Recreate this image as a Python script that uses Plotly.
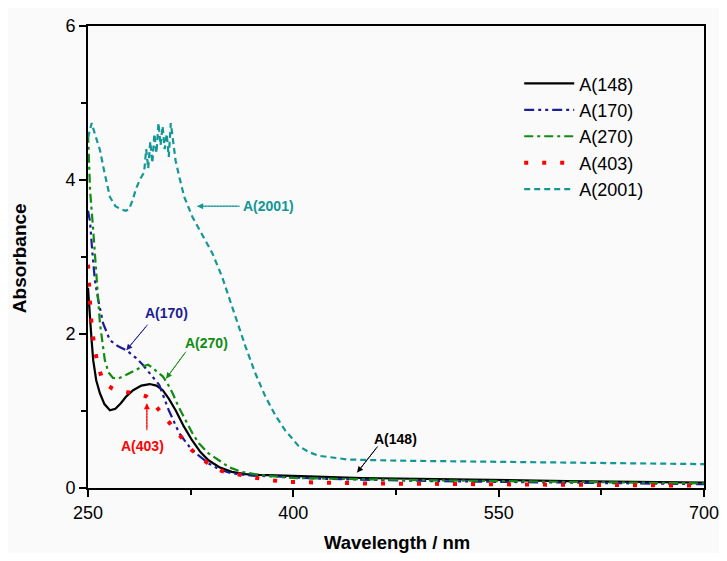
import plotly.graph_objects as go

# ---- data ----
wl_148 = [250, 251, 252.5, 253.8, 256, 258.7, 262, 266, 270, 274, 278, 283, 289, 295, 300, 304.6, 309, 314, 320, 326, 332, 338, 346, 355, 365, 375, 390, 411, 450, 500, 550, 600, 650, 700]
a_148 = [2.6, 2.3, 1.95, 1.66, 1.40, 1.23, 1.09, 1.01, 1.03, 1.10, 1.19, 1.27, 1.33, 1.35, 1.33, 1.27, 1.16, 1.01, 0.80, 0.62, 0.47, 0.36, 0.27, 0.21, 0.18, 0.17, 0.16, 0.15, 0.13, 0.115, 0.10, 0.09, 0.08, 0.07]

wl_170 = [250, 251.5, 253, 255, 257.5, 261, 266, 272, 278, 285, 290, 295, 302, 309, 316.7, 326, 338, 346, 355, 370, 386.6, 420, 500, 600, 700]
a_170 = [3.6, 3.46, 3.1, 2.70, 2.44, 2.14, 1.92, 1.84, 1.79, 1.69, 1.60, 1.49, 1.34, 1.01, 0.71, 0.49, 0.32, 0.24, 0.19, 0.16, 0.15, 0.12, 0.09, 0.07, 0.05]

wl_270 = [250, 250.7, 251.5, 253.8, 256.3, 258.7, 262.3, 265, 268.3, 272, 278, 284, 290, 294, 297.3, 301, 304.6, 308, 311.8, 316, 321.5, 326, 331, 338, 345.6, 353, 362, 375, 398.6, 450, 500, 600, 700]
a_270 = [4.6, 4.3, 3.87, 3.35, 2.70, 2.14, 1.66, 1.50, 1.43, 1.42, 1.47, 1.52, 1.58, 1.60, 1.56, 1.50, 1.45, 1.36, 1.23, 1.06, 0.88, 0.72, 0.58, 0.45, 0.36, 0.27, 0.21, 0.17, 0.13, 0.11, 0.10, 0.08, 0.06]

wl_403 = [250, 250.2, 251.3, 252.7, 255, 257.5, 260, 263.5, 268, 275.6, 285.3, 292.5, 297, 302, 308, 314, 320, 326, 333, 341, 348, 355, 367, 380, 394, 450, 550, 700]
a_403 = [2.9, 2.79, 2.45, 2.10, 1.79, 1.58, 1.44, 1.34, 1.29, 1.25, 1.23, 1.19, 1.12, 1.01, 0.88, 0.75, 0.62, 0.49, 0.38, 0.28, 0.22, 0.19, 0.15, 0.11, 0.08, 0.06, 0.05, 0.03]

wl_2001 = [250, 251, 252.7, 255, 258.7, 262, 266, 270, 274, 277.5, 280, 282.6, 285, 287.7,
           291, 292.5, 294, 295.5, 297, 298.5, 300, 301.5, 303, 304.5, 306, 307.5,
           309, 310.5, 312, 314, 316.7, 320.3, 326.3, 333, 340.8, 348, 355.3,
           365, 372, 379.5, 387, 394, 403.6, 411, 418, 430, 439.9, 476, 548.6, 620, 700]
a_2001 = [4.55, 4.62, 4.74, 4.60, 4.39, 4.10, 3.78, 3.66, 3.62, 3.60, 3.62, 3.74, 3.88, 4.0,
          4.10, 4.40, 4.15, 4.50, 4.22, 4.60, 4.35, 4.74, 4.45, 4.70, 4.40, 4.60,
          4.30, 4.74, 4.50, 4.25, 4.04, 3.78, 3.52, 3.30, 3.05,
          2.74, 2.35, 1.84, 1.50, 1.19, 0.94, 0.75, 0.55, 0.47, 0.42, 0.39, 0.37, 0.355, 0.34,
          0.33, 0.31]

names = ["A(148)", "A(170)", "A(270)", "A(403)", "A(2001)"]
x_ticks = [250, 400, 550, 700]
y_ticks = [0, 2, 4, 6]

# ---- styles ----
C_BLACK = "#000000"
C_BLUE = "#1c1c96"
C_GREEN = "#108c10"
C_RED = "#ff0000"
C_TEAL = "#129696"

fig = go.Figure()
series = [
    (wl_148, a_148, names[0], dict(color=C_BLACK, width=2.2, dash="solid")),
    (wl_170, a_170, names[1], dict(color=C_BLUE, width=2.2, dash="10px,4px,3px,4px,3px,4px")),
    (wl_270, a_270, names[2], dict(color=C_GREEN, width=2.2, dash="9px,4px,3px,4px")),
    (wl_403, a_403, names[3], dict(color=C_RED, width=4, dash="4px,14px")),
    (wl_2001, a_2001, names[4], dict(color=C_TEAL, width=2.2, dash="6px,4px")),
]
for x, y, n, ln in series:
    fig.add_trace(go.Scatter(x=x, y=y, mode="lines", name=n, line=ln))

ann_font = "Liberation Sans"
annotations = [
    # text, color, head(x,y), tail(x,y), text pos(x,y), xanchor
    ("A(2001)", C_TEAL, (329.7, 3.66), (360.9, 3.66), (361.5, 3.66), "left"),
    ("A(170)", C_BLUE, (278, 1.79), (293.5, 2.12), (307.2, 2.27), "center"),
    ("A(270)", C_GREEN, (307, 1.42), (321.5, 1.77), (336.2, 1.88), "center"),
    ("A(403)", C_RED, (293, 1.10), (293, 0.75), (290, 0.54), "center"),
    ("A(148)", C_BLACK, (446.6, 0.20), (461.6, 0.54), (474.6, 0.64), "center"),
]
for txt, col, head, tail, tpos, xa in annotations:
    fig.add_shape(type="line", x0=tail[0], y0=tail[1], x1=head[0], y1=head[1],
                  xref="x", yref="y", line=dict(color=col, width=1, dash="2px,1px"))
    fig.add_annotation(x=head[0], y=head[1], ax=tail[0], ay=tail[1],
                       xref="x", yref="y", axref="x", ayref="y",
                       text="", showarrow=True, arrowhead=2, arrowsize=1.2,
                       arrowwidth=1, arrowcolor=col, standoff=0)
    fig.add_annotation(x=tpos[0], y=tpos[1], xref="x", yref="y", text="<b>%s</b>" % txt,
                       showarrow=False, xanchor=xa, yanchor="middle",
                       font=dict(family=ann_font, size=14, color=col))

# axis titles as paper-anchored text
fig.add_annotation(x=0.502, y=-0.119, xref="paper", yref="paper", text="<b>Wavelength / nm</b>",
                   showarrow=False, xanchor="center", yanchor="middle",
                   font=dict(family="Liberation Sans", size=18.5, color="black"))
fig.add_annotation(x=-0.110, y=0.498, xref="paper", yref="paper", text="<b>Absorbance</b>",
                   showarrow=False, xanchor="center", yanchor="middle", textangle=-90,
                   font=dict(family="Liberation Sans", size=19, color="black"))

axis_common = dict(
    showline=True, linecolor="black", linewidth=2, mirror=True,
    ticks="outside", ticklen=7, tickwidth=1.5, tickcolor="black",
    showgrid=False, zeroline=False, automargin=False, ticklabeloverflow="allow",
    tickfont=dict(family="Liberation Sans", size=18, color="black"),
)
fig.update_xaxes(range=[250, 700], tickvals=x_ticks, ticktext=[str(v) for v in x_ticks],
                 minor=dict(tickvals=[325, 475, 625], ticks="outside", ticklen=5, tickcolor="black", tickwidth=1.5),
                 **axis_common)
fig.update_yaxes(range=[0, 6], tickvals=y_ticks, ticktext=[str(v) for v in y_ticks],
                 minor=dict(tickvals=[1, 3, 5], ticks="outside", ticklen=5, tickcolor="black", tickwidth=1.5),
                 **axis_common)

fig.update_layout(
    width=711, height=545,
    margin=dict(l=80, r=15, t=18, b=65),
    paper_bgcolor="#fafafa", plot_bgcolor="#fafafa",
    showlegend=True,
    legend=dict(x=0.700, y=0.915, xanchor="left", yanchor="top",
                bgcolor="rgba(0,0,0,0)", borderwidth=0,
                font=dict(family="Liberation Sans", size=18, color="black"),
                itemwidth=50, tracegroupgap=0),
)

fig.write_html("out.html")
